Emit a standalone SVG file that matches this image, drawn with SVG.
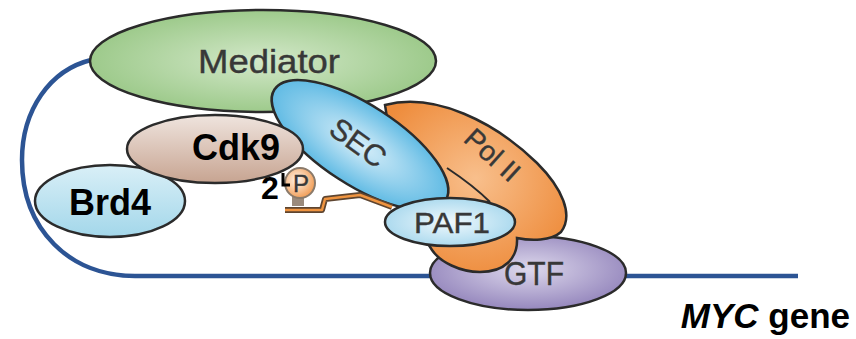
<svg xmlns="http://www.w3.org/2000/svg" width="856" height="339" viewBox="0 0 856 339">
  <style>
    .outline { stroke: #2b2b2b; stroke-width: 2.5; }
    .bold { font-family: "Liberation Sans", Arial, sans-serif; font-weight: bold; fill: #000; }
    .light { font-family: "Liberation Sans", Arial, sans-serif; fill: #383838; stroke: #383838; stroke-width: 0.4; }
  </style>
  <defs>
    <radialGradient id="gMed" cx="0.5" cy="0.5" r="0.55">
      <stop offset="0" stop-color="#d3e8c9"/>
      <stop offset="1" stop-color="#98c785"/>
    </radialGradient>
    <linearGradient id="gCdk" x1="0" y1="0" x2="0" y2="1">
      <stop offset="0" stop-color="#efe4de"/>
      <stop offset="1" stop-color="#c7a491"/>
    </linearGradient>
    <linearGradient id="gBrd" x1="0" y1="0" x2="0" y2="1">
      <stop offset="0" stop-color="#d9eff7"/>
      <stop offset="1" stop-color="#a3d7ea"/>
    </linearGradient>
    <radialGradient id="gSec" cx="0.5" cy="0.5" r="0.55">
      <stop offset="0" stop-color="#d8eef9"/>
      <stop offset="1" stop-color="#55b6e2"/>
    </radialGradient>
    <radialGradient id="gPol" cx="0.5" cy="0.45" r="0.6">
      <stop offset="0" stop-color="#f8bf8c"/>
      <stop offset="1" stop-color="#ee8c3c"/>
    </radialGradient>
    <radialGradient id="gPaf" cx="0.5" cy="0.5" r="0.55">
      <stop offset="0" stop-color="#f0f9fd"/>
      <stop offset="1" stop-color="#a6d7ed"/>
    </radialGradient>
    <radialGradient id="gGtf" cx="0.5" cy="0.45" r="0.6">
      <stop offset="0" stop-color="#ddd8ec"/>
      <stop offset="1" stop-color="#8f80b9"/>
    </radialGradient>
    <radialGradient id="gP" cx="0.4" cy="0.4" r="0.6">
      <stop offset="0" stop-color="#fff4ea"/>
      <stop offset="1" stop-color="#f2a15c"/>
    </radialGradient>
  </defs>

  <!-- DNA looping from Mediator to the gene -->
  <g id="connectors">
    <path d="M 91 60 C 50 70, 22 110, 22 160 C 22 230, 70 276, 135 276 L 798 276" fill="none" stroke="#2c5494" stroke-width="4.5"/>
  </g>

  <g id="gtf">
    <ellipse cx="528" cy="273" rx="98" ry="37" fill="url(#gGtf)" class="outline"/>
    <text x="534" y="285" class="light" font-size="34" text-anchor="middle" textLength="60" lengthAdjust="spacingAndGlyphs">GTF</text>
  </g>

  <g id="pol2">
    <path d="M 385 105 C 435 92, 495 122, 537 163 C 562 188, 574 215, 561 232 C 551 241, 531 241, 517 238 C 518 258, 505 272, 480 272 C 460 272, 440 262, 432 250 L 400 200 Z" fill="url(#gPol)" class="outline"/>
    <path d="M 447 168 C 462 178, 478 190, 490 202" fill="none" stroke="#2b2b2b" stroke-width="2"/>
    <text x="0" y="0" class="light" font-size="28" text-anchor="middle" transform="translate(486,162) rotate(42)">Pol II</text>
  </g>

  <g id="mediator">
    <ellipse cx="263" cy="61" rx="173" ry="51" fill="url(#gMed)" class="outline"/>
    <text x="269" y="73" class="light" font-size="33" text-anchor="middle" textLength="142" lengthAdjust="spacingAndGlyphs">Mediator</text>
  </g>

  <g id="sec">
    <ellipse cx="0" cy="0" rx="102" ry="40" fill="url(#gSec)" class="outline" transform="translate(360,145) rotate(33)"/>
    <text x="0" y="10" class="light" font-size="30" text-anchor="middle" transform="translate(358,143) rotate(36)">SEC</text>
  </g>

  <g id="paf1">
    <ellipse cx="450" cy="222" rx="65" ry="24" fill="url(#gPaf)" class="outline"/>
    <text x="452" y="233" class="light" font-size="29" text-anchor="middle" textLength="76" lengthAdjust="spacingAndGlyphs">PAF1</text>
  </g>

  <g id="brd4">
    <ellipse cx="110" cy="201" rx="75" ry="36" fill="url(#gBrd)" class="outline"/>
    <text x="110" y="215" class="bold" font-size="36" text-anchor="middle">Brd4</text>
  </g>

  <g id="cdk9">
    <ellipse cx="215" cy="149" rx="88" ry="34" fill="url(#gCdk)" class="outline"/>
    <text x="236" y="160" class="bold" font-size="36" text-anchor="middle">Cdk9</text>
  </g>

  <!-- phosphorylated CTD tail -->
  <g id="ctd">
    <path d="M 285 210 L 322 210 L 325 199 L 360 195 L 392 207" fill="none" stroke="#5e4530" stroke-width="6" stroke-linejoin="round"/>
    <path d="M 285 210 L 322 210 L 325 199 L 360 195 L 392 207" fill="none" stroke="#ef9440" stroke-width="2.5" stroke-linejoin="round"/>
    <rect x="292" y="196" width="12" height="10" fill="#9a8a7c"/>
    <circle cx="300" cy="183" r="15" fill="url(#gP)" stroke="#8a7a6a" stroke-width="2"/>
    <text x="301" y="192" class="light" font-size="24" text-anchor="middle">P</text>
    <text x="270" y="199" class="bold" font-size="32" text-anchor="middle">2</text>
    <path d="M 283 173 L 283 185 L 290 185" fill="none" stroke="#000" stroke-width="3"/>
  </g>

  <g id="gene-label">
    <text x="850" y="328" class="bold" font-size="35" text-anchor="end"><tspan font-style="italic">MYC</tspan> gene</text>
  </g>
</svg>
